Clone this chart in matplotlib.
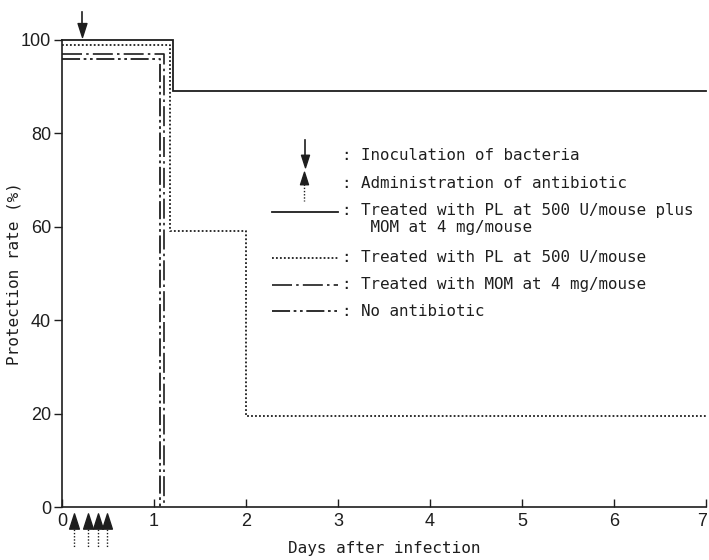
import numpy as np
import matplotlib
matplotlib.use("Agg")
import matplotlib.pyplot as plt
from matplotlib.path import Path
from matplotlib.transforms import blended_transform_factory, ScaledTranslation

# Survival (protection rate, %) after infection, step curves
pl_mom_days = [0, 1.21, 7]
pl_mom_rate = [100, 89, 89]

pl_days = [0, 1.17, 2.0, 7]
pl_rate = [99, 59, 19.5, 19.5]

mom_days = [0, 1.11]
mom_rate = [97, 0]

none_days = [0, 1.07]
none_rate = [96, 0]

inoculation_day = 0.22
antibiotic_days = [0.13, 0.28, 0.39, 0.49]

x_ticks = [0, 1, 2, 3, 4, 5, 6, 7]
y_ticks = [0, 20, 40, 60, 80, 100]

legend_labels = [
    ": Inoculation of bacteria",
    ": Administration of antibiotic",
    ": Treated with PL at 500 U/mouse plus\n   MOM at 4 mg/mouse",
    ": Treated with PL at 500 U/mouse",
    ": Treated with MOM at 4 mg/mouse",
    ": No antibiotic",
]

INK = "#1e1e1e"
MONO = ["DejaVu Sans Mono"]
SANS = ["Liberation Sans Narrow", "Liberation Sans", "DejaVu Sans"]

W, H = 709, 560
fig = plt.figure(figsize=(W / 100, H / 100), dpi=100)
ax = fig.add_axes([62 / W, (H - 507) / H, (706 - 62) / W, (507 - 40) / H])

styles = {
    "pl_mom": dict(linestyle="-", linewidth=1.3),
    "pl": dict(linestyle=(0, (1.0, 1.2)), linewidth=1.3),
    "mom": dict(linestyle=(0, (12, 2.5, 1.5, 2.5)), linewidth=1.2),
    "none": dict(linestyle=(0, (10, 2, 1.5, 2, 1.5, 2)), linewidth=1.3),
}

for d, r, key in [(pl_mom_days, pl_mom_rate, "pl_mom"),
                  (pl_days, pl_rate, "pl"),
                  (mom_days, mom_rate, "mom"),
                  (none_days, none_rate, "none")]:
    ax.plot(d, r, drawstyle="steps-post", color=INK, clip_on=False,
            solid_joinstyle="miter", **styles[key])

ax.set_xlim(0, 7)
ax.set_ylim(0, 100)
ax.set_xticks(x_ticks)
ax.set_yticks(y_ticks)
ax.set_xticklabels([str(v) for v in x_ticks], fontfamily=SANS, fontsize=13)
ax.set_yticklabels([str(v) for v in y_ticks], fontfamily=SANS, fontsize=13)
ax.tick_params(axis="x", direction="in", length=6, width=1, colors=INK, pad=4)
ax.tick_params(axis="y", direction="out", length=6, width=1, colors=INK, pad=2)
# keep the last day label inside the canvas
last = ax.get_xticklabels()[-1]
last.set_transform(last.get_transform() +
                   ScaledTranslation(-4 / 100, 0, fig.dpi_scale_trans))
for s in ["top", "right"]:
    ax.spines[s].set_visible(False)
for s in ["left", "bottom"]:
    ax.spines[s].set_color(INK)
    ax.spines[s].set_linewidth(1.2)

ax.set_xlabel("Days after infection", fontfamily=MONO, fontsize=11.5,
              color=INK, labelpad=8)
ax.set_ylabel("Protection rate (%)", fontfamily=MONO, fontsize=11.5,
              color=INK)
ax.yaxis.set_label_coords((22 - 62) / (706 - 62), 0.5)

# narrow triangular arrow heads
head = Path([(-0.32, -0.5), (0.32, -0.5), (0, 0.5), (-0.32, -0.5)],
            [Path.MOVETO, Path.LINETO, Path.LINETO, Path.CLOSEPOLY])
head_down = Path([(-0.32, 0.5), (0.32, 0.5), (0, -0.5), (-0.32, 0.5)],
                 [Path.MOVETO, Path.LINETO, Path.LINETO, Path.CLOSEPOLY])

def fy(py):
    return 1 - py / H

def fx(px):
    return px / W

bt = blended_transform_factory(ax.transData, fig.transFigure)

# inoculation arrow above the plot
ax.plot([inoculation_day, inoculation_day], [fy(12), fy(28)], color=INK,
        lw=1.2, transform=bt, clip_on=False)
ax.plot([inoculation_day], [fy(30)], marker=head_down, markersize=10,
        color=INK, transform=bt, clip_on=False)

# antibiotic administrations below the axis
for d in antibiotic_days:
    ax.plot([d, d], [fy(526), fy(547)], color=INK, lw=1.0,
            linestyle=(0, (1, 1.3)), transform=bt, clip_on=False)
    ax.plot([d], [fy(521)], marker=head, markersize=11, color=INK,
            transform=bt, clip_on=False)

# key
tx = fx(342)
KEY_FS = 11.4
for py, lab in [(155, legend_labels[0]), (183, legend_labels[1]),
                (258, legend_labels[3]), (285, legend_labels[4]),
                (311, legend_labels[5])]:
    fig.text(tx, fy(py), lab, fontfamily=MONO, fontsize=KEY_FS,
             color=INK, va="center")
fig.text(tx, fy(203), legend_labels[2], fontfamily=MONO, fontsize=KEY_FS,
         color=INK, va="top", linespacing=1.15)

# key symbols
fig.add_artist(plt.Line2D([fx(305), fx(305)], [fy(140), fy(158)], color=INK,
                          lw=1.2, transform=fig.transFigure))
fig.add_artist(plt.Line2D([fx(305)], [fy(161)], marker=head_down,
                          markersize=9, color=INK, transform=fig.transFigure))
fig.add_artist(plt.Line2D([fx(304), fx(304)], [fy(184), fy(201)], color=INK,
                          lw=1.0, linestyle=(0, (1, 1.3)),
                          transform=fig.transFigure))
fig.add_artist(plt.Line2D([fx(304)], [fy(178)], marker=head, markersize=9,
                          color=INK, transform=fig.transFigure))

for py, key in [(212, "pl_mom"), (258, "pl"), (285, "mom"), (311, "none")]:
    fig.add_artist(plt.Line2D([fx(272), fx(338)], [fy(py), fy(py)], color=INK,
                              transform=fig.transFigure, **styles[key]))

fig.savefig("out.png", dpi=100, facecolor="white")
